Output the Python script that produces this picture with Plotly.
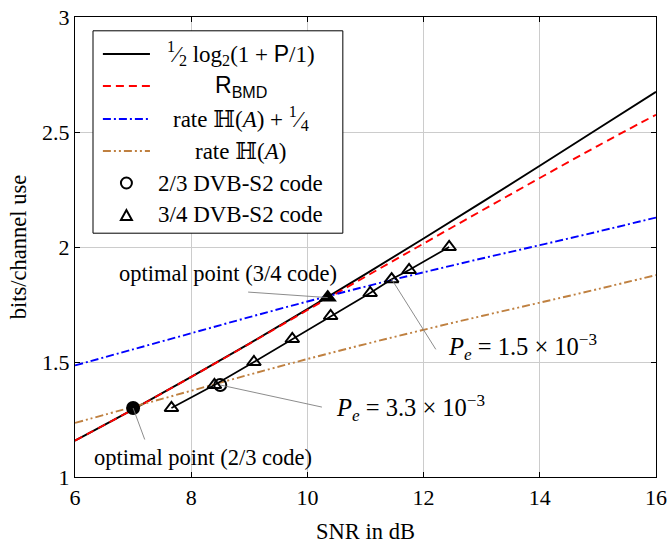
import plotly.graph_objects as go

# ---- data ----
snr = [6, 7, 8, 9, 10, 11, 12, 13, 14, 15, 16]
capacity = [1.158, 1.294, 1.435, 1.580, 1.730, 1.882, 2.037, 2.194, 2.353, 2.514, 2.675]
r_bmd = [1.158, 1.294, 1.435, 1.579, 1.726, 1.871, 2.015, 2.158, 2.300, 2.440, 2.575]
rate_h_plus = [1.485, 1.555, 1.625, 1.695, 1.763, 1.828, 1.890, 1.950, 2.008, 2.067, 2.128]
rate_h = [1.235, 1.305, 1.375, 1.445, 1.513, 1.578, 1.640, 1.700, 1.758, 1.817, 1.878]

code23_snr = [8.5]
code23_rate = [1.40]
code34_snr = [7.66, 8.40, 9.08, 9.74, 10.40, 11.08, 11.45, 11.75, 12.44]
code34_rate = [1.30, 1.40, 1.50, 1.60, 1.70, 1.80, 1.86, 1.90, 2.00]

opt23 = (7.0, 1.30)
opt34 = (10.35, 1.78)

x_ticks = [6, 8, 10, 12, 14, 16]
y_ticks = [1, 1.5, 2, 2.5, 3]
y_tick_text = ["1", "1.5", "2", "2.5", "3"]

FONT = "Liberation Serif, Times New Roman, serif"
BROWN = "#bf8040"
TXT = 22.5
LW = 1.9

fig = go.Figure()

fig.add_trace(go.Scatter(x=snr, y=capacity, mode="lines", line_shape="spline",
                         line=dict(color="black", width=LW), showlegend=False))
fig.add_trace(go.Scatter(x=snr, y=r_bmd, mode="lines", line_shape="spline",
                         line=dict(color="#ff0000", width=LW, dash="8px,5px"), showlegend=False))
fig.add_trace(go.Scatter(x=snr, y=rate_h_plus, mode="lines", line_shape="spline",
                         line=dict(color="#0000ff", width=LW, dash="8px,3px,2px,3px"), showlegend=False))
fig.add_trace(go.Scatter(x=snr, y=rate_h, mode="lines", line_shape="spline",
                         line=dict(color=BROWN, width=LW, dash="8px,3px,2px,3px,2px,3px"), showlegend=False))
fig.add_trace(go.Scatter(x=code34_snr, y=code34_rate, mode="lines+markers",
                         line=dict(color="black", width=1.7),
                         marker=dict(symbol="triangle-up-open", size=12, color="black",
                                     line=dict(width=2, color="black")),
                         showlegend=False))
fig.add_trace(go.Scatter(x=code23_snr, y=code23_rate, mode="markers",
                         marker=dict(symbol="circle-open", size=12, color="black",
                                     line=dict(width=2, color="black")),
                         showlegend=False))
fig.add_trace(go.Scatter(x=[opt23[0]], y=[opt23[1]], mode="markers",
                         marker=dict(symbol="circle", size=14, color="black"), showlegend=False))
fig.add_trace(go.Scatter(x=[opt34[0]], y=[opt34[1]], mode="markers",
                         marker=dict(symbol="triangle-up", size=16, color="black"), showlegend=False))

# ---- leader lines for annotations ----
GRAY = "#7f7f7f"
leaders = [
    (opt34[0], opt34[1], 8.98, 1.804),
    (opt23[0], opt23[1], 7.20, 1.163),
    (code23_snr[0], code23_rate[0], 10.25, 1.304),
    (code34_snr[6], code34_rate[6], 12.21, 1.555),
]
for x0, y0, x1, y1 in leaders:
    fig.add_shape(type="line", x0=x0, y0=y0, x1=x1, y1=y1, xref="x", yref="y",
                  line=dict(color=GRAY, width=0.9), layer="above")

ann_font = dict(family=FONT, size=TXT, color="black")
pe_font = dict(family=FONT, size=24.5, color="black")
leg_font = dict(family=FONT, size=23, color="black")
HH = "<span style=\"font-family:DejaVu Serif\">ℍ</span>"
fig.add_annotation(x=8.63, y=1.885, xref="x", yref="y", text="optimal point (3/4 code)",
                   showarrow=False, font=ann_font)
fig.add_annotation(x=8.2, y=1.083, xref="x", yref="y", text="optimal point (2/3 code)",
                   showarrow=False, font=ann_font)
fig.add_annotation(x=11.77, y=1.302, xref="x", yref="y",
                   text="<i>P</i><sub><i>e</i></sub> = 3.3 × 10<sup>−3</sup>",
                   showarrow=False, font=pe_font)
fig.add_annotation(x=13.71, y=1.567, xref="x", yref="y",
                   text="<i>P</i><sub><i>e</i></sub> = 1.5 × 10<sup>−3</sup>",
                   showarrow=False, font=pe_font)

# ---- custom legend (paper coords) ----
lx0, lx1, ly0, ly1 = 0.031, 0.461, 0.530, 0.970
fig.add_shape(type="rect", xref="paper", yref="paper", x0=lx0, x1=lx1, y0=ly0, y1=ly1,
              line=dict(color="black", width=1), fillcolor="white", layer="above")
rows = [0.9196, 0.8500, 0.7783, 0.7087, 0.6391, 0.5696]
sx0, sx1, sxm = 0.048, 0.129, 0.0885
line_styles = [
    dict(color="black", width=LW),
    dict(color="#ff0000", width=LW, dash="8px,5px"),
    dict(color="#0000ff", width=LW, dash="8px,3px,2px,3px"),
    dict(color=BROWN, width=LW, dash="8px,3px,2px,3px,2px,3px"),
]
for r, st in zip(rows[:4], line_styles):
    fig.add_shape(type="line", xref="paper", yref="paper", x0=sx0, x1=sx1, y0=r, y1=r,
                  line=st, layer="above")
fig.add_shape(type="circle", xref="paper", yref="paper",
              x0=sxm - 5.5 / 581, x1=sxm + 5.5 / 581, y0=rows[4] - 5.5 / 460, y1=rows[4] + 5.5 / 460,
              line=dict(color="black", width=2), layer="above")
tw, th = 5.5 / 581, 5.0 / 460
fig.add_shape(type="path", xref="paper", yref="paper",
              path=f"M {sxm - tw} {rows[5] - th} L {sxm + tw} {rows[5] - th} L {sxm} {rows[5] + th} Z",
              line=dict(color="black", width=2), layer="above")

labels = [
    "<sup>1</sup>⁄<sub>2</sub> log<sub>2</sub>(1 + <span style=\"font-family:Liberation Sans\">P</span>/1)",
    "<span style=\"font-family:Liberation Sans\">R<sub>BMD</sub></span>",
    f"rate {HH}(<i>A</i>) + <sup>1</sup>⁄<sub>4</sub>",
    f"rate {HH}(<i>A</i>)",
    "2/3 DVB-S2 code",
    "3/4 DVB-S2 code",
]
for r, t in zip(rows, labels):
    fig.add_annotation(x=0.2857, y=r, xref="paper", yref="paper", text=t, showarrow=False,
                       font=leg_font, xanchor="center", yanchor="middle")

axis_common = dict(showgrid=True, gridcolor="#cccccc", gridwidth=1, showline=True,
                   linecolor="black", linewidth=1.2, mirror="allticks", ticks="inside",
                   ticklen=5, tickcolor="black", zeroline=False, automargin=False,
                   tickfont=dict(family=FONT, size=22, color="black"))

fig.update_layout(
    width=668, height=544,
    margin=dict(l=75, r=12, t=17, b=67),
    paper_bgcolor="white", plot_bgcolor="white",
    showlegend=False,
    xaxis=dict(range=[6, 16], tickvals=x_ticks, ticktext=[str(v) for v in x_ticks],
               title=dict(text="SNR in dB", font=dict(family=FONT, size=TXT, color="black"), standoff=26),
               **axis_common),
    yaxis=dict(range=[1, 3], tickvals=y_ticks, ticktext=y_tick_text,
               title=dict(text="bits/channel use", font=dict(family=FONT, size=TXT, color="black"), standoff=9),
               **axis_common),
)

fig.write_html("out.html", config={"displayModeBar": False},
               post_script="document.body.style.margin='0';document.body.style.overflow='hidden';")
